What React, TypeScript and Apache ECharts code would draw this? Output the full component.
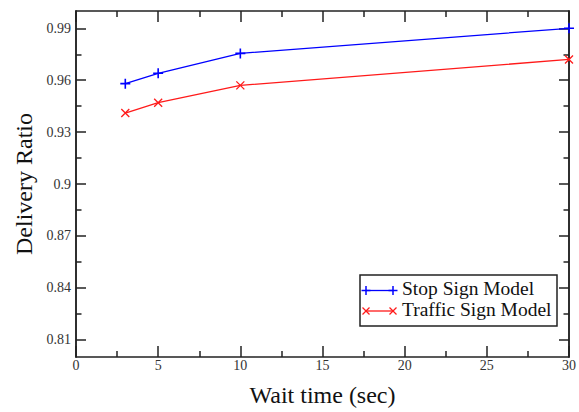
import React, { useEffect, useRef } from "react";
import * as echarts from "echarts";

const waitTimes = [3, 5, 10, 30];
const stopSign = [0.958, 0.964, 0.9755, 0.99];
const trafficSign = [0.941, 0.947, 0.957, 0.972];
const seriesNames = ["Stop Sign Model", "Traffic Sign Model"];
const yMajorTicks = [0.81, 0.84, 0.87, 0.9, 0.93, 0.96, 0.99];
const yMinorTicks = [0.825, 0.855, 0.885, 0.915, 0.945, 0.975];

const FONT = "Liberation Serif, serif";
const AX = "#222";
const BLUE = "#0000ff";
const RED = "#ff1a1a";

export default function App() {
  const ref = useRef<HTMLDivElement>(null);
  useEffect(() => {
    if (!ref.current) return;
    const chart = echarts.init(ref.current, null, { renderer: "svg" });
    const axisLine = { show: true, lineStyle: { color: AX, width: 1.5 } };
    const tickStyle = { color: AX, width: 1.5 };
    const yBase = { type: "value", min: 0.8, max: 1.0, splitLine: { show: false }, axisLine };
    const xBase = {
      type: "value", min: 0, max: 30, interval: 5, splitLine: { show: false }, axisLine,
      axisTick: { show: true, inside: true, length: 11, lineStyle: tickStyle },
      minorTick: { show: true, splitNumber: 2, length: 6, lineStyle: tickStyle },
      minorSplitLine: { show: false },
    };
    const lx = 360, ly = 275, lw = 197, lh = 51;
    const row1 = 290.5, row2 = 311;
    const sx1 = 366, sx2 = 393;
    const Z = 20;
    const seg = (x1: number, y1: number, x2: number, y2: number, stroke: string, w: number) => ({
      type: "line", z: Z, shape: { x1, y1, x2, y2 }, style: { stroke, lineWidth: w },
    });
    const plus = (cx: number, cy: number, s: number) => [
      seg(cx - s, cy, cx + s, cy, BLUE, 1.5),
      seg(cx, cy - s, cx, cy + s, BLUE, 1.5),
    ];
    const cross = (cx: number, cy: number, s: number) => [
      seg(cx - s, cy - s, cx + s, cy + s, RED, 1.3),
      seg(cx - s, cy + s, cx + s, cy - s, RED, 1.3),
    ];
    const labelFont = { fontFamily: FONT, fontSize: 14, color: "#333" };
    const nameFont = { fontFamily: FONT, fontSize: 24, color: "#111" };
    chart.setOption({
      animation: false,
      backgroundColor: "#fff",
      textStyle: { fontFamily: FONT },
      grid: { left: 76, right: 2, top: 11, bottom: 50, containLabel: false },
      xAxis: [
        {
          ...xBase, position: "bottom",
          name: "Wait time (sec)", nameLocation: "middle", nameGap: 26,
          nameTextStyle: nameFont,
          axisLabel: { show: true, margin: 1, ...labelFont },
        },
        { ...xBase, position: "top", axisLabel: { show: false } },
      ],
      yAxis: [
        {
          ...yBase, position: "left",
          name: "Delivery Ratio", nameLocation: "middle", nameGap: 40,
          nameTextStyle: nameFont,
          axisTick: { show: true, inside: true, length: 10, lineStyle: tickStyle, customValues: yMajorTicks },
          axisLabel: {
            show: true, margin: 5, ...labelFont,
            customValues: yMajorTicks,
            formatter: (v: number) => String(+Number(v).toFixed(2)),
          },
        },
        {
          ...yBase, position: "left",
          axisTick: { show: true, inside: true, length: 5.5, lineStyle: tickStyle, customValues: yMinorTicks },
          axisLabel: { show: false },
        },
        {
          ...yBase, position: "right",
          axisTick: { show: true, inside: true, length: 10, lineStyle: tickStyle, customValues: yMajorTicks },
          axisLabel: { show: false },
        },
        {
          ...yBase, position: "right",
          axisTick: { show: true, inside: true, length: 5.5, lineStyle: tickStyle, customValues: yMinorTicks },
          axisLabel: { show: false },
        },
      ],
      series: [
        {
          name: seriesNames[0], type: "line", xAxisIndex: 0, yAxisIndex: 0,
          data: waitTimes.map((x, i) => [x, stopSign[i]]),
          lineStyle: { color: BLUE, width: 1.3 },
          symbol: "path://M0 5 L10 5 M5 0 L5 10", symbolSize: 10,
          itemStyle: { color: BLUE, borderColor: BLUE, borderWidth: 1.6 },
          clip: false,
        },
        {
          name: seriesNames[1], type: "line", xAxisIndex: 0, yAxisIndex: 0,
          data: waitTimes.map((x, i) => [x, trafficSign[i]]),
          lineStyle: { color: RED, width: 1.3 },
          symbol: "path://M0 0 L10 10 M0 10 L10 0", symbolSize: 8,
          itemStyle: { color: RED, borderColor: RED, borderWidth: 1.3 },
          clip: false,
        },
      ],
      graphic: [
        { type: "rect", z: Z - 1, shape: { x: lx, y: ly, width: lw, height: lh }, style: { fill: "#fff", stroke: AX, lineWidth: 1.5 } },
        seg(sx1, row1, sx2, row1, BLUE, 1.3),
        ...plus(sx1, row1, 4.5), ...plus(sx2, row1, 4.5),
        seg(sx1, row2, sx2, row2, RED, 1.3),
        ...cross(sx1, row2, 3.5), ...cross(sx2, row2, 3.5),
        { type: "text", z: Z, x: 402, y: row1 - 2, style: { text: seriesNames[0], fontFamily: FONT, fontSize: 19.5, fill: "#111", verticalAlign: "middle", align: "left" } },
        { type: "text", z: Z, x: 402, y: row2 - 2, style: { text: seriesNames[1], fontFamily: FONT, fontSize: 19.5, fill: "#111", verticalAlign: "middle", align: "left" } },
      ],
    });
    return () => chart.dispose();
  }, []);
  return <div ref={ref} style={{ position: "fixed", left: 0, top: 0, width: 579, height: 412 }} />;
}
